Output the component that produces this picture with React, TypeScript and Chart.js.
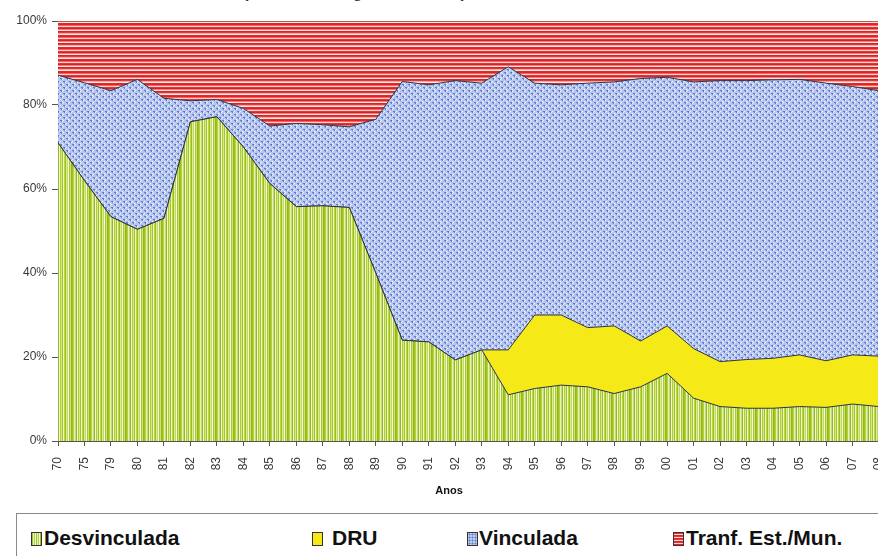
import React, { useEffect, useRef } from 'react';
import { Chart, registerables } from 'chart.js';
Chart.register(...registerables);

const years = ['70', '75', '79', '80', '81', '82', '83', '84', '85', '86', '87', '88', '89', '90', '91', '92', '93', '94', '95', '96', '97', '98', '99', '00', '01', '02', '03', '04', '05', '06', '07', '08'];
const desvinculada = [71, 62, 53.4, 50.4, 53, 76, 77.2, 70, 61.3, 55.8, 56, 55.6, 40, 24, 23.6, 19.3, 21.7, 11, 12.5, 13.3, 12.9, 11.3, 12.9, 16.1, 10.2, 8.2, 7.8, 7.8, 8.2, 8.0, 8.8, 8.2];
const dru = [0, 0, 0, 0, 0, 0, 0, 0, 0, 0, 0, 0, 0, 0, 0, 0, 0, 10.7, 17.5, 16.7, 14.1, 16.1, 10.9, 11.3, 11.8, 10.7, 11.6, 11.9, 12.3, 11.1, 11.7, 12.0];
const vinculada = [16.1, 23.3, 30, 35.7, 28.6, 5, 4.1, 9.2, 13.7, 19.8, 19.3, 19.2, 36.6, 61.6, 61.2, 66.5, 63.5, 67.4, 55.2, 54.8, 58.2, 58.1, 62.5, 59.2, 63.5, 66.9, 66.4, 66.3, 65.6, 66.1, 63.9, 63.2];
const transferencias = [12.9, 14.7, 16.6, 13.9, 18.4, 19, 18.7, 20.8, 25, 24.4, 24.7, 25.2, 23.4, 14.4, 15.2, 14.2, 14.8, 10.9, 14.8, 15.2, 14.8, 14.5, 13.7, 13.4, 14.5, 14.2, 14.2, 14, 13.9, 14.8, 15.6, 16.6];
const yTicks = [0, 20, 40, 60, 80, 100];
const seriesNames = ['Desvinculada', 'DRU', 'Vinculada', 'Tranf. Est./Mun.'];
const titleText = 'Evolução da Receita segundo a Vinculação';
const xTitle = 'Anos';

const greenStripes = ['#9ec31e', '#b6d23e', '#e6efbe', '#c9de6a', '#93bd12', '#f3f7e0', '#b0cf34', '#d6e78c', '#a2c626', '#edf4d2', '#bdd64c', '#98c01a', '#dde9a4', '#c2da5a', '#f6f9e8', '#a9ca2c', '#cfe27a', '#8fba10'];
const redStripes = ['#e42222', '#f06464', '#fcd4d4', '#e83434', '#c02c2c', '#ef7a7a', '#ffe2e2', '#e41e1e', '#d24242', '#f5a5a5', '#fbe9e9', '#e02828'];

function makeTile(kind: string): HTMLCanvasElement {
  const c = document.createElement('canvas');
  const g = c.getContext('2d') as CanvasRenderingContext2D;
  if (kind === 'green') {
    c.width = greenStripes.length; c.height = 2;
    greenStripes.forEach((col, i) => { g.fillStyle = col; g.fillRect(i, 0, 1, 2); });
  } else if (kind === 'red') {
    c.width = 2; c.height = redStripes.length;
    redStripes.forEach((col, i) => { g.fillStyle = col; g.fillRect(0, i, 2, 1); });
  } else {
    c.width = 6; c.height = 6;
    g.fillStyle = '#b6c6ee'; g.fillRect(0, 0, 6, 6);
    g.fillStyle = '#627bcb';
    g.fillRect(0, 0, 2, 1); g.fillRect(3, 3, 2, 1); g.fillRect(1, 1, 1, 1); g.fillRect(4, 4, 1, 1);
    g.fillStyle = '#eef2fc';
    g.fillRect(2, 1, 1, 1); g.fillRect(5, 4, 1, 1); g.fillRect(3, 0, 1, 1); g.fillRect(0, 3, 1, 1); g.fillRect(2, 5, 1, 1);
  }
  return c;
}

const swatchBg: Record<string, string> = {
  green: 'repeating-linear-gradient(90deg,#9ec31e 0 1px,#e6efbe 1px 2px,#b6d23e 2px 3px,#f3f7e0 3px 4px)',
  yellow: '#f5ea18',
  blue: 'radial-gradient(circle,#627bcb 0.8px,transparent 1.2px) 0 0/3px 3px,#bccbee',
  red: 'repeating-linear-gradient(0deg,#e42222 0 1px,#fcd4d4 1px 2px,#e83434 2px 3px)',
};

export default function App() {
  const ref = useRef<HTMLCanvasElement | null>(null);
  useEffect(() => {
    const canvas = ref.current;
    if (!canvas) return;
    const ctx = canvas.getContext('2d') as CanvasRenderingContext2D;
    const gP = ctx.createPattern(makeTile('green'), 'repeat');
    const bP = ctx.createPattern(makeTile('blue'), 'repeat');
    const rP = ctx.createPattern(makeTile('red'), 'repeat');
    const line = '#2f3240';
    const axisColor = '#555555';
    const chart = new Chart(canvas, {
      type: 'line',
      data: {
        labels: years,
        datasets: [
          { label: seriesNames[0], data: desvinculada, backgroundColor: gP as any, borderColor: line, borderWidth: 1, fill: 'origin', pointRadius: 0, tension: 0 },
          { label: seriesNames[1], data: dru, backgroundColor: '#f5ea18', borderColor: line, borderWidth: 1, fill: '-1', pointRadius: 0, tension: 0 },
          { label: seriesNames[2], data: vinculada, backgroundColor: bP as any, borderColor: line, borderWidth: 1, fill: '-1', pointRadius: 0, tension: 0 },
          { label: seriesNames[3], data: transferencias, backgroundColor: rP as any, borderColor: '#5a2020', borderWidth: 1, fill: '-1', pointRadius: 0, tension: 0 },
        ],
      },
      options: {
        responsive: false,
        animation: false,
        devicePixelRatio: 1,
        layout: { padding: { top: 21, left: 0, right: 0, bottom: 0 } },
        plugins: { legend: { display: false }, tooltip: { enabled: false }, title: { display: false } },
        scales: {
          x: {
            offset: false,
            border: { display: true, color: axisColor, width: 1 },
            grid: { display: true, drawOnChartArea: false, drawTicks: true, tickLength: 5, color: axisColor },
            ticks: { autoSkip: false, maxRotation: 90, minRotation: 90, padding: 11, color: '#3a3a3a', font: { family: '"Liberation Sans", Arial, sans-serif', size: 12 } },
            afterFit: (s: any) => { s.height = 59; s.paddingLeft = 0; s.paddingRight = 0; },
          },
          y: {
            stacked: true,
            min: 0, max: 100,
            afterBuildTicks: (s: any) => { s.ticks = yTicks.map((v) => ({ value: v })); },
            border: { display: true, color: axisColor, width: 1 },
            grid: { display: true, drawOnChartArea: false, drawTicks: true, tickLength: 6, color: axisColor },
            ticks: { padding: 5, color: '#3a3a3a', font: { family: '"Liberation Sans", Arial, sans-serif', size: 12 }, callback: (v: any) => v + '%' },
            afterFit: (s: any) => { s.width = 58; },
          },
        },
      },
    });
    return () => chart.destroy();
  }, []);

  const legendItems = [
    { name: seriesNames[0], sw: 'green', swX: 31, txX: 44 },
    { name: seriesNames[1], sw: 'yellow', swX: 312, txX: 332 },
    { name: seriesNames[2], sw: 'blue', swX: 467, txX: 479 },
    { name: seriesNames[3], sw: 'red', swX: 673, txX: 686 },
  ];

  return (
    <div style={{ position: 'absolute', left: 0, top: 0, width: 878, height: 556, overflow: 'hidden', background: '#fff' }}>
      <div style={{ position: 'absolute', left: 205, top: -16, font: '16px "Liberation Serif", "Times New Roman", serif', lineHeight: '16px', whiteSpace: 'nowrap', color: '#111' }}>{titleText}</div>
      <canvas ref={ref} width={879} height={500} style={{ position: 'absolute', left: 0, top: 0, width: 879, height: 500 }} />
      <div style={{ position: 'absolute', left: 429, top: 484, width: 40, textAlign: 'center', font: 'bold 11px "Liberation Sans", Arial, sans-serif', color: '#111' }}>{xTitle}</div>
      <div style={{ position: 'absolute', left: 16, top: 513, width: 900, height: 60, border: '1px solid #8a8a8a', boxSizing: 'border-box' }} />
      {legendItems.map((it) => (
        <React.Fragment key={it.name}>
          <div style={{ position: 'absolute', left: it.swX, top: 532, width: 9, height: 12, border: '1px solid #333', background: swatchBg[it.sw] }} />
          <div style={{ position: 'absolute', left: it.txX, top: 527, font: 'bold 21px "Liberation Sans", Arial, sans-serif', lineHeight: '22px', whiteSpace: 'nowrap', color: '#111' }}>{it.name}</div>
        </React.Fragment>
      ))}
    </div>
  );
}
